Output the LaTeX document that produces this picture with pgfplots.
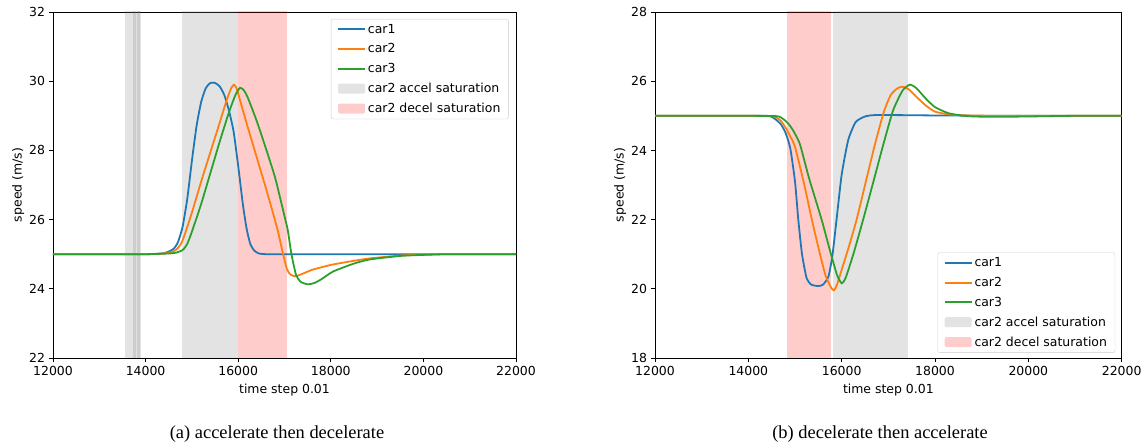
\documentclass[border=0pt]{standalone}
\usepackage{pgfplots}
\pgfplotsset{compat=1.18}
\usepackage{fontspec}
\setmainfont{DejaVu Sans}
\newfontfamily\capfont{Liberation Serif}
\definecolor{c0}{HTML}{1F77B4}
\definecolor{c1}{HTML}{FF7F0E}
\definecolor{c2}{HTML}{2CA02C}
\definecolor{spangray}{HTML}{808080}
\definecolor{spanred}{HTML}{FF0000}
\pgfplotsset{
  mpl/.style={
    scale only axis, height=346bp,
    xmin=12000, xmax=22000,
    xtick={12000,14000,...,22000},
    scaled x ticks=false,
    xticklabel style={/pgf/number format/fixed, /pgf/number format/precision=0},
    tick align=outside, xtick pos=lower, ytick pos=left,
    major tick length=4.5bp,
    axis line style={line width=0.9bp},
    every tick/.style={line width=0.9bp, black},
    /pgf/number format/assume math mode=true,
    /pgf/number format/1000 sep={},
    tick label style={font=\fontsize{12.5}{15}\selectfont},
    label style={font=\fontsize{12.5}{15}\selectfont},
    xlabel={time step 0.01}, ylabel={speed (m/s)},
    xlabel style={yshift=-2bp},
    ylabel style={yshift=-2bp},
    legend cell align=left,
    legend style={font=\fontsize{12.5}{15}\selectfont, draw=black!20, rounded corners=2bp, fill=white, fill opacity=0.85, text opacity=1, row sep=5bp, inner xsep=6bp, inner ysep=3bp},
    clip=true,
  },
  leg0/.style={legend image code/.code={\draw[c0, line width=1.8bp] (0bp,0bp) -- (27bp,0bp);}},
  leg1/.style={legend image code/.code={\draw[c1, line width=1.8bp] (0bp,0bp) -- (27bp,0bp);}},
  leg2/.style={legend image code/.code={\draw[c2, line width=1.8bp] (0bp,0bp) -- (27bp,0bp);}},
  leggray/.style={legend image code/.code={\path[draw=none, fill=spangray, fill opacity=0.22] (0bp,-5bp) rectangle (27bp,5bp);}},
  legred/.style={legend image code/.code={\path[draw=none, fill=spanred, fill opacity=0.2] (0bp,-5bp) rectangle (27bp,5bp);}},
}
\begin{document}
\begin{tikzpicture}
% ---------------- left axis ----------------
\begin{axis}[mpl, at={(53bp,87bp)}, anchor=south west, width=463bp,
  ymin=22, ymax=32, ytick={22,24,...,32},
  legend style={at={(0.984,0.98)}, anchor=north east}]
\addlegendimage{leg0}
\addlegendentry{car1}
\addlegendimage{leg1}
\addlegendentry{car2}
\addlegendimage{leg2}
\addlegendentry{car3}
\addlegendimage{leggray}
\addlegendentry{car2 accel saturation}
\addlegendimage{legred}
\addlegendentry{car2 decel saturation}
% spans
\addplot[forget plot, fill=spangray, fill opacity=0.22, draw=none] coordinates {(13550,21) (13550,33) (13900,33) (13900,21)} -- cycle;
\addplot[forget plot, fill=spangray, fill opacity=0.22, draw=none] coordinates {(13730,21) (13730,33) (13790,33) (13790,21)} -- cycle;
\addplot[forget plot, fill=spangray, fill opacity=0.22, draw=none] coordinates {(13810,21) (13810,33) (13870,33) (13870,21)} -- cycle;
\addplot[forget plot, fill=spangray, fill opacity=0.22, draw=none] coordinates {(14780,21) (14780,33) (16000,33) (16000,21)} -- cycle;
\addplot[forget plot, fill=spanred, fill opacity=0.2, draw=none] coordinates {(16000,21) (16000,33) (17050,33) (17050,21)} -- cycle;
% car1
\addplot[forget plot, c0, line width=1.8bp, smooth, tension=0.35] coordinates {
(12000,25) (13000,25) (14000,25) (14400,25.03) (14600,25.15) (14700,25.35) (14800,25.8) (14900,26.6) (15000,27.7) (15100,28.7) (15200,29.4) (15300,29.8) (15400,29.95) (15500,29.95) (15600,29.85) (15700,29.6) (15800,29.15) (15900,28.55) (16000,27.55) (16100,26.45) (16180,25.75) (16260,25.3) (16350,25.1) (16450,25.02) (16600,25) (16800,25) (17500,25) (19000,25) (22000,25)};
% car2
\addplot[forget plot, c1, line width=1.8bp, smooth, tension=0.35] coordinates {
(12000,25) (13000,25) (14000,25) (14400,25.02) (14600,25.08) (14700,25.18) (14800,25.4) (15000,26.2) (15200,27.1) (15400,27.95) (15600,28.8) (15750,29.45) (15850,29.8) (15910,29.9) (15970,29.78) (16050,29.4) (16200,28.7) (16400,27.8) (16600,26.9) (16760,26.15) (16860,25.65) (16970,25.0) (17050,24.58) (17120,24.42) (17230,24.36) (17400,24.44) (17600,24.55) (18000,24.69) (18500,24.81) (18850,24.88) (19500,24.96) (20000,24.99) (20500,25) (21200,25) (22000,25)};
% car3
\addplot[forget plot, c2, line width=1.8bp, smooth, tension=0.35] coordinates {
(12000,25) (13000,25) (14000,25) (14600,25.03) (14800,25.12) (14900,25.3) (15000,25.65) (15200,26.45) (15400,27.35) (15600,28.25) (15800,29.1) (15940,29.6) (16040,29.81) (16120,29.74) (16200,29.55) (16400,28.85) (16600,28.05) (16800,27.2) (17000,26.1) (17070,25.7) (17150,25.0) (17250,24.4) (17350,24.2) (17500,24.13) (17650,24.17) (17800,24.28) (18050,24.5) (18500,24.73) (18850,24.85) (19500,24.95) (20000,24.98) (20500,25) (21200,25) (22000,25)};
\end{axis}
% ---------------- right axis ----------------
\begin{axis}[mpl, at={(655bp,87bp)}, anchor=south west, width=466.7bp,
  ymin=18, ymax=28, ytick={18,20,...,28},
  legend style={at={(0.986,0.015)}, anchor=south east}]
\addlegendimage{leg0}
\addlegendentry{car1}
\addlegendimage{leg1}
\addlegendentry{car2}
\addlegendimage{leg2}
\addlegendentry{car3}
\addlegendimage{leggray}
\addlegendentry{car2 accel saturation}
\addlegendimage{legred}
\addlegendentry{car2 decel saturation}
\addplot[forget plot, fill=spanred, fill opacity=0.2, draw=none] coordinates {(14820,17) (14820,29) (15765,29) (15765,17)} -- cycle;
\addplot[forget plot, fill=spangray, fill opacity=0.22, draw=none] coordinates {(15810,17) (15810,29) (17430,29) (17430,17)} -- cycle;
% car1
\addplot[forget plot, c0, line width=1.8bp, smooth, tension=0.35] coordinates {
(12000,25) (13000,25) (14000,25) (14400,25) (14500,24.97) (14600,24.88) (14700,24.75) (14800,24.5) (14900,24.05) (15000,23.1) (15070,22.0) (15150,21.0) (15250,20.3) (15350,20.12) (15500,20.08) (15600,20.12) (15715,20.35) (15800,20.95) (15890,22.0) (16000,23.3) (16140,24.3) (16300,24.82) (16500,24.98) (16700,25.02) (17200,25.02) (18000,25.01) (19500,25) (22000,25)};
% car2
\addplot[forget plot, c1, line width=1.8bp, smooth, tension=0.35] coordinates {
(12000,25) (13000,25) (14000,25) (14500,24.99) (14600,24.95) (14700,24.85) (14800,24.65) (14900,24.4) (15000,24.1) (15200,23.0) (15360,22.0) (15500,21.2) (15650,20.4) (15780,20.02) (15840,19.96) (15900,20.12) (16000,20.55) (16150,21.2) (16320,22.0) (16500,23.0) (16710,24.16) (16900,25.1) (17050,25.6) (17200,25.8) (17320,25.84) (17450,25.75) (17600,25.55) (17800,25.3) (18000,25.12) (18300,25.04) (18700,25.01) (19500,25) (21000,25) (22000,25)};
% car3
\addplot[forget plot, c2, line width=1.8bp, smooth, tension=0.35] coordinates {
(12000,25) (13000,25) (14000,25) (14600,24.99) (14700,24.95) (14800,24.85) (14900,24.7) (15000,24.48) (15110,24.16) (15300,23.2) (15570,22.0) (15750,21.1) (15900,20.4) (16000,20.16) (16080,20.3) (16250,21.0) (16460,22.0) (16700,23.2) (16890,24.16) (17100,25.15) (17300,25.72) (17460,25.9) (17600,25.8) (17800,25.5) (18000,25.25) (18300,25.07) (18700,24.99) (19200,24.97) (20000,24.98) (21000,25) (22000,25)};
\end{axis}
% captions
\node[font=\capfont\fontsize{18.5}{22}\selectfont, anchor=base] at (277bp,7bp) {(a) accelerate then decelerate};
\node[font=\capfont\fontsize{18.5}{22}\selectfont, anchor=base] at (880bp,7bp) {(b) decelerate then accelerate};
\pgfresetboundingbox
\path (0,0) rectangle (1146bp,445bp);
\end{tikzpicture}
\end{document}
